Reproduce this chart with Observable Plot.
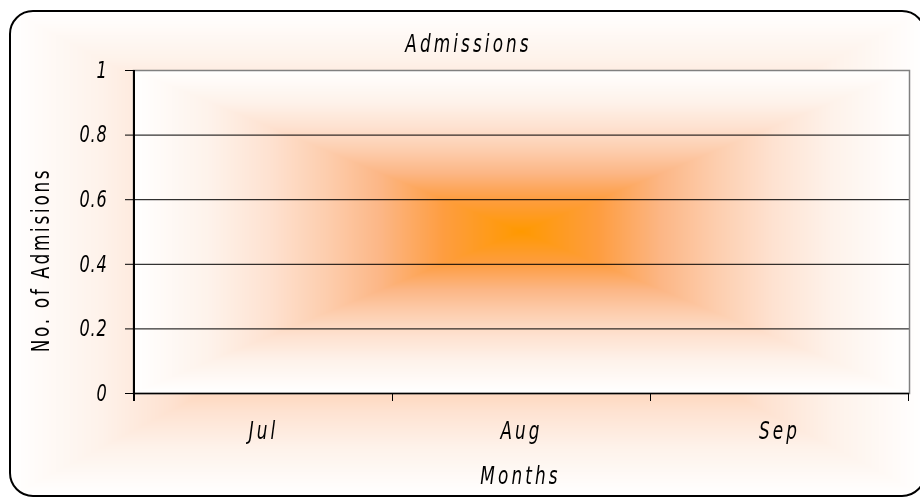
<!DOCTYPE html>
<html><head><meta charset="utf-8">
<script src="https://cdn.jsdelivr.net/npm/d3@7"></script>
<script src="https://cdn.jsdelivr.net/npm/@observablehq/plot@0.6"></script>
<style>
html,body{margin:0;padding:0;background:#fff;overflow:hidden}
#wrap{position:relative;width:920px;height:498px}
#bg{position:absolute;left:0;top:0}
#chart{position:absolute;left:0;top:0}
</style></head><body>
<div id="wrap"><canvas id="bg" width="920" height="498"></canvas><div id="chart"></div></div>
<script>
// ---- data ----
const months = ["Jul", "Aug", "Sep"];
const admissions = [];            // no values are plotted in the reference
const yTicks = [0, 0.2, 0.4, 0.6, 0.8, 1];
const title = "Admissions";
const xTitle = "Months";
const yTitle = "No. of Admisions";

// ---- layout ----
const W = 920, H = 498;
const M = {top: 70, right: 11, bottom: 105, left: 133};
const FONT = '"Liberation Sans Narrow","Arial Narrow","DejaVu Sans Condensed","DejaVu Sans",sans-serif';
const NARROW = 0.78; // horizontal squeeze to imitate a narrow typeface
const fmtY = d => String(+d.toFixed(1));

// ---- background (box gradients like Excel "from center") ----
const stops = [
  [0, [255, 153, 0]], [0.2, [254, 157, 64]], [0.36, [252, 182, 133]],
  [0.5, [253, 205, 173]], [0.65, [254, 226, 209]], [0.8, [254, 242, 234]], [1, [255, 255, 255]]
];
function col(t) {
  t = Math.max(0, Math.min(1, t));
  for (let i = 1; i < stops.length; i++) {
    if (t <= stops[i][0]) {
      const [t0, c0] = stops[i - 1], [t1, c1] = stops[i];
      const k = (t - t0) / (t1 - t0);
      return c0.map((v, j) => v + (c1[j] - v) * k);
    }
  }
  return stops[stops.length - 1][1];
}
function boxGradient(w, h) {
  const c = document.createElement("canvas");
  c.width = w; c.height = h;
  const ctx = c.getContext("2d");
  const img = ctx.createImageData(w, h);
  const cx = w / 2, cy = h / 2;
  for (let j = 0; j < h; j++) for (let i = 0; i < w; i++) {
    const t = Math.max(Math.abs(i + 0.5 - cx) / cx, Math.abs(j + 0.5 - cy) / cy);
    const [r, g, b] = col(t);
    const o = (j * w + i) * 4;
    img.data[o] = r; img.data[o + 1] = g; img.data[o + 2] = b; img.data[o + 3] = 255;
  }
  ctx.putImageData(img, 0, 0);
  return c;
}
function roundRect(ctx, x, y, w, h, r) {
  ctx.beginPath();
  ctx.moveTo(x + r, y);
  ctx.arcTo(x + w, y, x + w, y + h, r);
  ctx.arcTo(x + w, y + h, x, y + h, r);
  ctx.arcTo(x, y + h, x, y, r);
  ctx.arcTo(x, y, x + w, y, r);
  ctx.closePath();
}
(function drawBg() {
  const ctx = document.getElementById("bg").getContext("2d");
  ctx.fillStyle = "#fff"; ctx.fillRect(0, 0, W, H);
  const B = {x: 10, y: 11, w: 915, h: 485, r: 23};
  ctx.save();
  roundRect(ctx, B.x, B.y, B.w, B.h, B.r); ctx.clip();
  ctx.drawImage(boxGradient(B.w, B.h), B.x, B.y);
  ctx.restore();
  const pw = W - M.left - M.right, ph = H - M.top - M.bottom;
  ctx.drawImage(boxGradient(pw, ph), M.left, M.top);
  ctx.lineWidth = 2; ctx.strokeStyle = "#000";
  roundRect(ctx, B.x, B.y, B.w, B.h, B.r); ctx.stroke();
})();

// ---- chart ----
const plot = Plot.plot({
  width: W, height: H,
  marginTop: M.top, marginRight: M.right, marginBottom: M.bottom, marginLeft: M.left,
  style: {background: "transparent", fontFamily: FONT, fontSize: "24px", fontStyle: "italic",
          color: "#000", overflow: "visible"},
  x: {type: "band", domain: months, padding: 0, axis: null},
  y: {domain: [0, 1], axis: null},
  marks: [
    Plot.gridY(yTicks.filter(d => d > 0 && d < 1), {stroke: "#000", strokeOpacity: 1, strokeWidth: 1}),
    Plot.frame({stroke: "#808080", strokeWidth: 1.5}),
    Plot.barY(admissions, {x: "month", y: "value", fill: "#ff9900"}),
    Plot.ruleY([0], {stroke: "#000", strokeWidth: 1.5}),
    Plot.axisY(yTicks, {tickSize: 8, tickPadding: 18, tickFormat: fmtY,
                        stroke: "#000", fill: "#000", label: null, fontSize: 23}),
    Plot.axisX(months, {tickSize: 0, tickPadding: 28, label: null, fill: "#000", fontSize: 24}),
    (index, scales) => {
      const {x, y} = scales;
      const g = d3.create("svg:g").attr("stroke", "#000").attr("fill", "none");
      const bw = x.bandwidth();
      const bounds = months.map(m => x(m)).concat([x(months[months.length - 1]) + bw]);
      g.append("line").attr("x1", bounds[0]).attr("x2", bounds[0])
        .attr("y1", y(1)).attr("y2", y(0) + 8).attr("stroke-width", 2);
      for (const b of bounds.slice(1)) {
        g.append("line").attr("x1", Math.round(b) + 0.5).attr("x2", Math.round(b) + 0.5)
          .attr("y1", y(0)).attr("y2", y(0) + 8).attr("stroke-width", 1);
      }
      return g.node();
    },
    Plot.text([title], {text: d => d, frameAnchor: "top", textAnchor: "middle", dx: -53, dy: -19,
                        lineAnchor: "bottom", fontSize: 24, fill: "#000"}),
    Plot.text([xTitle], {text: d => d, frameAnchor: "bottom", textAnchor: "middle", dx: -1, dy: 90,
                         lineAnchor: "bottom", fontSize: 24, fill: "#000"}),
    Plot.text([yTitle], {text: d => d, frameAnchor: "left", textAnchor: "middle", lineAnchor: "middle",
                         rotate: -90, dx: -92, dy: 28, fontSize: 24,
                         fontStyle: "normal", fill: "#000"})
  ]
});

// letter spacing per kind of text, then squeeze every text horizontally about its own anchor
const spacingOf = s => yTicks.map(fmtY).includes(s) ? 1 : s === yTitle ? 3.5 : 4;
plot.querySelectorAll("text").forEach(t => {
  t.style.letterSpacing = spacingOf(t.textContent) + "px";
  const x0 = parseFloat(t.getAttribute("x")) || 0;
  const tr = t.getAttribute("transform") || "";
  t.setAttribute("transform", `${tr} translate(${x0},0) scale(${NARROW},1) translate(${-x0},0)`);
});
document.getElementById("chart").appendChild(plot);
</script>
</body></html>
